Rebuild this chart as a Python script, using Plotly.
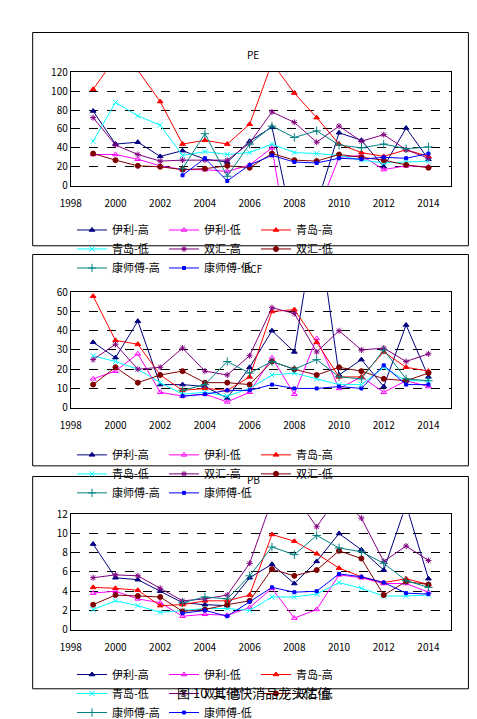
import plotly.graph_objects as go

YEARS = list(range(1999, 2015))
SERIES = ['伊利-高', '伊利-低', '青岛-高', '青岛-低', '双汇-高', '双汇-低', '康师傅-高', '康师傅-低']

# PE
pe_yili_hi = [79, 44, 46, 31, 37, 28, 25, 47, 62, -50, -20, 56, 48, 20, 61, 28]
pe_yili_lo = [33, 33, 28, 21, 17, 17, 15, 22, 40, -100, -30, 30, 32, 17, 21, 20]
pe_qd_hi = [102, 135, 122, 89, 44, 48, 44, 65, 130, 98, 72, 44, 35, 31, 38, 31]
pe_qd_lo = [47, 88, 74, 64, 32, 36, 33, 35, 44, 35, 34, 32, 27, 24, 25, 26]
pe_sh_hi = [72, 43, 33, 26, 27, 27, 27, 45, 78, 67, 46, 63, 47, 54, 38, 29]
pe_sh_lo = [34, 27, 21, 20, 17, 18, 21, 19, 34, 27, 26, 33, 30, 27, 22, 19]
pe_ksf_hi = [None, None, None, None, 18, 55, 10, 44, 63, 51, 58, 43, 40, 44, 39, 41]
pe_ksf_lo = [None, None, None, None, 11, 29, 5, 22, 32, 25, 24, 29, 28, 30, 29, 34]

# PCF
pcf_yili_hi = [34, 26, 45, 12, 12, 11, 5, 21, 40, 29, 100, 17, 25, 11, 43, 16]
pcf_yili_lo = [15, 19, 28, 8, 6, 7, 3, 8, 26, 7, 36, 10, 16, 8, 14, 11]
pcf_qd_hi = [58, 35, 33, 17, 9, 10, 9, 16, 50, 51, 34, 16, 16, 29, 21, 19]
pcf_qd_lo = [27, 24, 20, 13, 7, 8, 6, 10, 17, 18, 15, 12, 12, 21, 14, 14]
pcf_sh_hi = [25, 33, 20, 21, 31, 19, 17, 27, 52, 49, 29, 40, 30, 31, 24, 28]
pcf_sh_lo = [12, 21, 13, 17, 19, 13, 13, 12, 24, 20, 17, 21, 19, 15, 14, 18]
pcf_ksf_hi = [None, None, None, None, 9, 12, 24, 18, 24, 20, 25, 16, 15, 30, 15, 14]
pcf_ksf_lo = [None, None, None, None, 6, 7, 9, 9, 12, 10, 10, 11, 10, 22, 12, 12]

# PB
pb_yili_hi = [8.9, 5.4, 5.2, 4.0, 2.8, 2.6, 2.5, 5.4, 6.8, 4.8, 7.1, 10.0, 8.3, 6.2, 13.0, 5.3]
pb_yili_lo = [3.8, 4.0, 3.2, 2.8, 1.4, 1.6, 1.5, 2.3, 4.3, 1.2, 2.1, 5.7, 5.4, 4.8, 4.8, 3.9]
pb_qd_hi = [4.4, 4.3, 4.1, 2.5, 2.6, 3.0, 3.0, 3.6, 9.9, 9.2, 7.9, 6.4, 5.5, 4.9, 5.3, 4.7]
pb_qd_lo = [2.1, 3.0, 2.5, 1.8, 2.0, 2.2, 2.2, 2.0, 3.4, 3.4, 3.7, 4.9, 4.3, 3.5, 3.5, 3.6]
pb_sh_hi = [5.4, 5.7, 5.6, 4.3, 3.0, 3.2, 3.6, 6.9, 13.5, 14.0, 10.7, 14.0, 11.6, 7.1, 8.7, 7.2]
pb_sh_lo = [2.6, 3.6, 3.5, 3.4, 1.9, 2.1, 2.6, 3.0, 6.3, 5.6, 6.2, 8.2, 7.4, 3.6, 5.0, 4.7]
pb_ksf_hi = [None, None, None, None, 2.8, 3.4, 3.2, 5.6, 8.6, 7.8, 9.8, 8.5, 8.1, 6.9, 5.1, 4.4]
pb_ksf_lo = [None, None, None, None, 1.7, 2.0, 1.4, 2.9, 4.4, 3.9, 4.0, 5.8, 5.5, 4.9, 3.8, 3.7]

STYLES = [
    ('#000080', 'triangle-up', 5),
    ('#FF00FF', 'triangle-up-open', 5),
    ('#FF0000', 'triangle-up', 5),
    ('#00FFFF', 'x-thin-open', 5),
    ('#800080', 'asterisk-open', 5),
    ('#800000', 'circle', 5),
    ('#008080', 'cross-thin-open', 6),
    ('#0000FF', 'square', 3),
]

PANELS = [
    ('PE', [pe_yili_hi, pe_yili_lo, pe_qd_hi, pe_qd_lo, pe_sh_hi, pe_sh_lo, pe_ksf_hi, pe_ksf_lo],
     120, 20, (57, 174), (16, 236), 29, 203),
    ('PCF', [pcf_yili_hi, pcf_yili_lo, pcf_qd_hi, pcf_qd_lo, pcf_sh_hi, pcf_sh_lo, pcf_ksf_hi, pcf_ksf_lo],
     60, 10, (284, 403), (245, 463), 259, 433),
    ('PB', [pb_yili_hi, pb_yili_lo, pb_qd_hi, pb_qd_lo, pb_sh_hi, pb_sh_lo, pb_ksf_hi, pb_ksf_lo],
     12, 2, (513, 632), (474, 693), 487, 663),
]

W, H = 477, 719
FONT = 'Noto Sans CJK SC'


def py(px):
    return 1 - px / H


fig = go.Figure()
layout = dict(
    width=W, height=H, margin=dict(l=0, r=0, t=0, b=0),
    paper_bgcolor='white', plot_bgcolor='white',
    font=dict(family=FONT, size=10, color='black'),
    shapes=[], annotations=[],
)

for i, (name, data, ymax, dtick, (top, bot), (btop, bbot), ty, ly) in enumerate(PANELS):
    sfx = '' if i == 0 else str(i + 1)
    legend_name = 'legend' + sfx
    for (label, values), (color, symbol, size) in zip(zip(SERIES, data), STYLES):
        fig.add_trace(go.Scatter(
            x=YEARS, y=values, name=label, mode='lines+markers',
            line=dict(color=color, width=1),
            marker=dict(color=color, symbol=symbol, size=size, line=dict(color=color, width=1)),
            xaxis='x' + sfx, yaxis='y' + sfx, legend=legend_name,
        ))
    layout['xaxis' + sfx] = dict(
        domain=[53 / W, 442 / W], range=[1998, 2015], dtick=2, tick0=1998,
        showgrid=False, showline=True, linecolor='black', mirror=True,
        ticks='', ticklabelstandoff=8, anchor='y' + sfx,
        tickfont=dict(size=10), zeroline=False,
    )
    layout['yaxis' + sfx] = dict(
        domain=[py(bot), py(top)], range=[0, ymax], dtick=dtick,
        showgrid=True, gridcolor='black', griddash='dash', gridwidth=1,
        showline=True, linecolor='black', mirror=True, ticks='',
        anchor='x' + sfx, zeroline=False, tickfont=dict(size=10),
    )
    layout[legend_name] = dict(
        orientation='h', x=0.19, y=py(ly), xanchor='left', yanchor='top',
        entrywidth=47, entrywidthmode='pixels', font=dict(size=11),
        bgcolor='rgba(0,0,0,0)', tracegroupgap=0, itemwidth=30,
    )
    layout['shapes'].append(dict(
        type='rect', xref='paper', yref='paper', x0=14 / W, x1=460 / W,
        y0=py(bbot), y1=py(btop), line=dict(color='black', width=1),
    ))
    layout['annotations'].append(dict(
        text=name, xref='paper', yref='paper', x=240 / W, y=py(ty),
        showarrow=False, font=dict(size=10),
    ))

layout['annotations'].append(dict(
    text='图 10  其他快消品龙头估值', xref='paper', yref='paper', x=240 / W, y=py(709),
    showarrow=False, font=dict(size=13, family=FONT),
))

fig.update_layout(**layout)
fig.write_html('out.html')
